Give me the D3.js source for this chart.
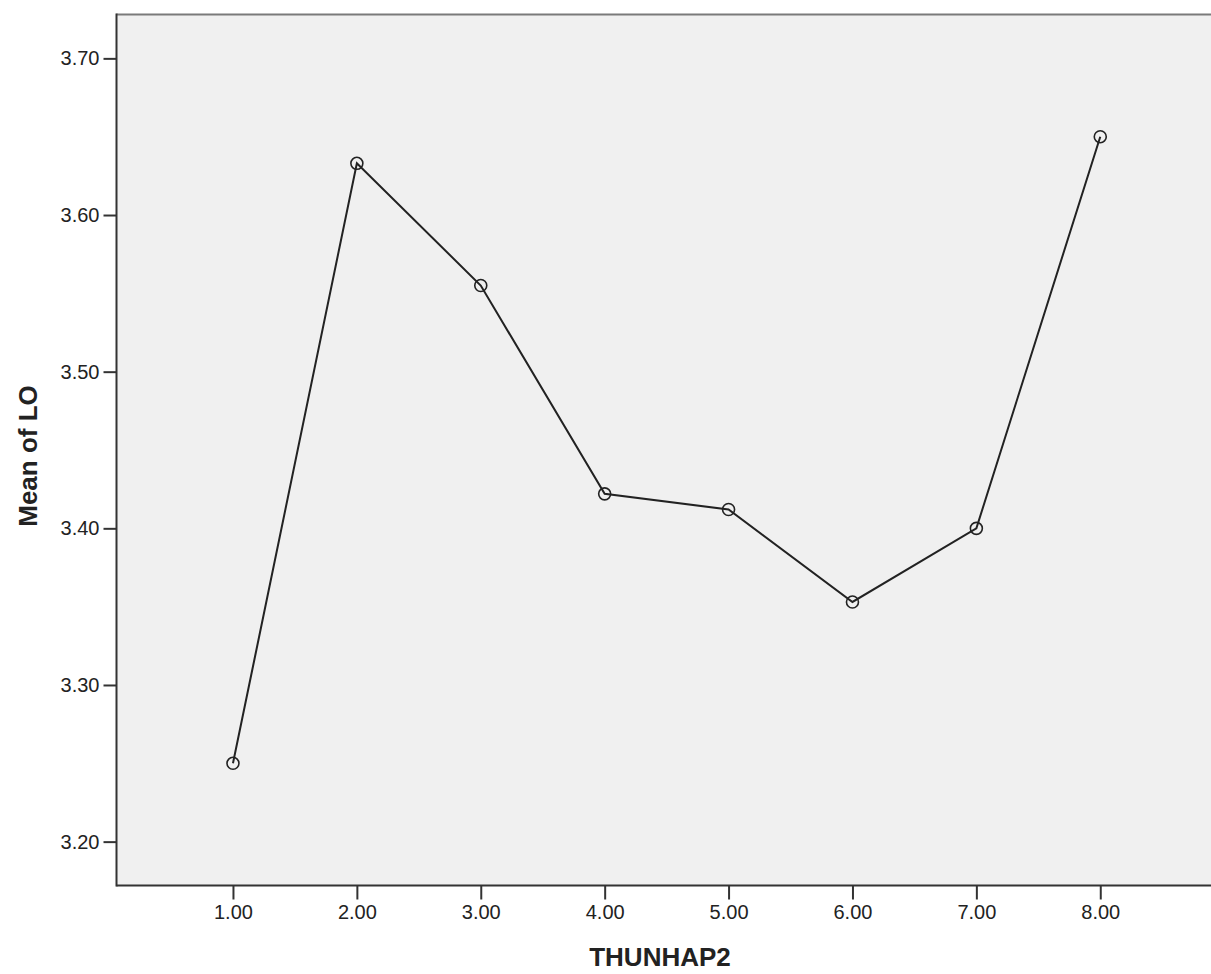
<!DOCTYPE html>
<html>
<head>
<meta charset="utf-8">
<script src="https://cdn.jsdelivr.net/npm/d3@7"></script>
<style>
  body { margin: 0; background: #fff; }
  svg text { font-family: "Liberation Sans", Arial, sans-serif; fill: #222; }
  .tick text { font-size: 20px; }
  .axis-title { font-size: 26px; font-weight: bold; }
</style>
</head>
<body>
<svg id="chart" width="1211" height="974"></svg>
<script>
// data
var categories = [1, 2, 3, 4, 5, 6, 7, 8];
var meanLO = [3.250, 3.633, 3.555, 3.422, 3.412, 3.353, 3.400, 3.650];
var yTicks = [3.20, 3.30, 3.40, 3.50, 3.60, 3.70];
var xTitle = "THUNHAP2";
var yTitle = "Mean of LO";

var svg = d3.select("#chart");
var plotL = 116.5, plotT = 14.5, plotB = 885.5, plotR = 1214;

var x = d3.scaleLinear().domain([0.06, 8.9]).range([plotL, plotL + (8.9 - 0.06) * 123.9]);
var y = d3.scaleLinear().domain([3.172, 3.728]).range([plotB, plotT]);

// plot background
svg.append("rect")
    .attr("x", plotL).attr("y", plotT)
    .attr("width", plotR - plotL).attr("height", plotB - plotT)
    .attr("fill", "#f0f0f0");

// top frame line (gray)
svg.append("line")
    .attr("x1", plotL).attr("x2", plotR)
    .attr("y1", plotT).attr("y2", plotT)
    .attr("stroke", "#7a7a7a").attr("stroke-width", 2);

// axes
var yAxis = d3.axisLeft(y).tickValues(yTicks).tickFormat(d3.format(".2f")).tickSize(13).tickPadding(4);
var gy = svg.append("g").attr("transform", "translate(" + plotL + ",0)").call(yAxis);

var xAxis = d3.axisBottom(x).tickValues(categories).tickFormat(d3.format(".2f")).tickSize(14).tickPadding(5);
var gx = svg.append("g").attr("transform", "translate(0," + plotB + ")").call(xAxis);

[gy, gx].forEach(function (g) {
    g.attr("font-size", null).attr("font-family", null);
    g.select(".domain").attr("stroke", "#333").attr("stroke-width", 2);
    g.selectAll(".tick line").attr("stroke", "#333").attr("stroke-width", 2);
    g.selectAll(".tick text").attr("fill", "#222");
});
gx.select(".domain").attr("d", "M" + plotL + ",0H" + plotR);
gy.select(".domain").attr("d", "M0," + (plotT - 1) + "V" + (plotB + 1));

// line
var line = d3.line()
    .x(function (d, i) { return x(categories[i]); })
    .y(function (d) { return y(d); });

svg.append("path")
    .datum(meanLO)
    .attr("d", line)
    .attr("fill", "none")
    .attr("stroke", "#222")
    .attr("stroke-width", 2);

// markers
svg.selectAll("circle.pt").data(meanLO)
    .enter().append("circle")
    .attr("class", "pt")
    .attr("cx", function (d, i) { return x(categories[i]); })
    .attr("cy", function (d) { return y(d); })
    .attr("r", 6)
    .attr("fill", "none")
    .attr("stroke", "#222")
    .attr("stroke-width", 1.6);

// titles
svg.append("text")
    .attr("class", "axis-title")
    .attr("x", 660).attr("y", 966)
    .attr("text-anchor", "middle")
    .text(xTitle);

svg.append("text")
    .attr("class", "axis-title")
    .attr("transform", "translate(37," + 456 + ") rotate(-90)")
    .attr("text-anchor", "middle")
    .text(yTitle);
</script>
</body>
</html>
